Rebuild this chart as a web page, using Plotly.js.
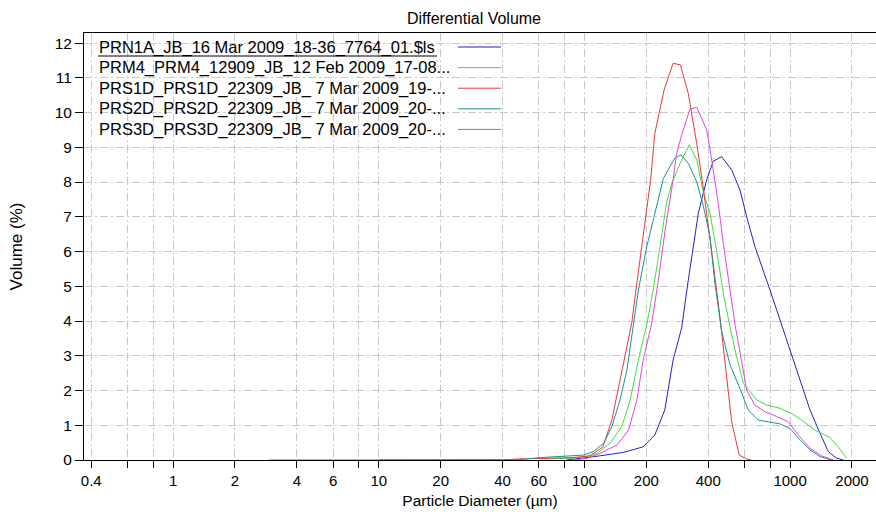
<!DOCTYPE html>
<html>
<head>
<meta charset="utf-8">
<script src="https://cdn.plot.ly/plotly-3.0.1.min.js"></script>
<style>html,body{margin:0;padding:0;background:#fff;}#chart{width:876px;height:512px;}</style>
</head>
<body>
<div id="chart"></div>
<script>
// ---- data ----
const seriesNames = [
  'PRN1A_JB_16 Mar 2009_18-36_7764_01.$ls',
  'PRM4_PRM4_12909_JB_12 Feb 2009_17-08...',
  'PRS1D_PRS1D_22309_JB_ 7 Mar 2009_19-...',
  'PRS2D_PRS2D_22309_JB_ 7 Mar 2009_20-...',
  'PRS3D_PRS3D_22309_JB_ 7 Mar 2009_20-...'
];
const seriesColors = ['#2323c8', '#3fe03f', '#e63a36', '#1f9090', '#e044e4'];

const prn1aX = [82, 98.8, 119, 155, 193, 220, 246, 270, 297, 320, 338, 358, 393, 423, 465, 520, 571, 615, 675, 741, 799, 861, 999, 1117, 1250, 1398, 1534, 1685, 1814];
const prn1aY = [0, 0.05, 0.12, 0.22, 0.38, 0.72, 1.44, 2.88, 3.8, 5.18, 6.14, 7.1, 8.06, 8.6, 8.73, 8.35, 7.77, 7.0, 6.14, 5.47, 4.89, 4.32, 3.17, 2.30, 1.44, 0.77, 0.24, 0.05, 0];

const prm4X = [60, 85, 103, 115, 133, 152, 167, 183, 201, 216, 233, 251, 266, 292, 324, 352, 379, 408, 443, 477, 510, 540, 592, 688, 770, 893, 1018, 1139, 1321, 1563, 1715, 1884];
const prm4Y = [0.03, 0.05, 0.10, 0.19, 0.48, 0.96, 1.73, 2.88, 3.9, 4.89, 6.14, 7.4, 7.96, 8.54, 9.07, 8.63, 7.7, 7.1, 5.9, 4.7, 3.85, 3.17, 2.21, 1.73, 1.58, 1.49, 1.34, 1.15, 0.86, 0.65, 0.38, 0.05];

const prs1dX = [2.93, 4, 6, 8, 10, 20, 40, 48, 60, 75, 88, 106.5, 123, 136, 152, 170, 178, 190, 210, 220, 244, 270, 293, 320, 352, 379, 400, 423, 456, 482, 520, 566, 615, 651];
const prs1dY = [0, 0, 0, 0, 0, 0, 0, 0.03, 0.05, 0.06, 0.07, 0.12, 0.38, 1.15, 2.59, 3.95, 4.89, 6.14, 8.06, 9.4, 10.65, 11.42, 11.37, 10.55, 9.1, 7.8, 6.81, 5.66, 4.12, 2.8, 1.1, 0.14, 0.03, 0];

const prs2dX = [10, 20, 40, 48.6, 61, 82, 98.8, 110.5, 124, 136, 149, 161, 173, 183, 201, 220, 242, 266, 276, 295, 320, 352, 379, 408, 431, 465, 510, 571, 626, 700, 783, 893, 999, 1117, 1250, 1398, 1593];
const prs2dY = [0, 0, 0, 0.01, 0.07, 0.12, 0.14, 0.24, 0.48, 0.96, 1.73, 2.59, 3.9, 4.89, 6.14, 7.1, 8.1, 8.54, 8.7, 8.78, 8.54, 8.0, 7.3, 6.43, 5.09, 3.7, 2.75, 2.05, 1.44, 1.15, 1.10, 1.04, 0.91, 0.58, 0.29, 0.10, 0];

const prs3dX = [90, 103, 119, 144, 164, 180, 193, 212, 229, 247, 270, 280, 297, 326, 352, 393, 412, 446, 477, 510, 540, 571, 615, 675, 755, 861, 980, 1096, 1250, 1424, 1622];
const prs3dY = [0, 0.05, 0.19, 0.43, 0.86, 1.73, 2.88, 3.9, 5.18, 6.62, 8.06, 8.78, 9.35, 10.1, 10.15, 9.5, 8.8, 7.45, 6.1, 4.9, 3.9, 3.1, 2.01, 1.58, 1.39, 1.25, 1.10, 0.72, 0.34, 0.12, 0];

const xTickVals = [0.4, 0.6, 0.8, 1, 2, 4, 6, 8, 10, 20, 40, 60, 80, 100, 200, 400, 600, 800, 1000, 2000];
const xTickText = ['0.4', '', '', '1', '2', '4', '6', '', '10', '20', '40', '60', '', '100', '200', '400', '', '', '1000', '2000'];
const yTickVals = [0, 1, 2, 3, 4, 5, 6, 7, 8, 9, 10, 11, 12];

const titleText = 'Differential Volume';
const xTitleText = 'Particle Diameter (µm)';
const yTitleText = 'Volume (%)';

// ---- layout geometry ----
const W = 876, H = 512, ML = 84, MR = 0, MT = 33, MB = 52;
const PW = W - ML - MR, PH = H - MT - MB;
function pxX(p) { return (p - ML) / PW; }
function pxY(p) { return (H - MB - p) / PH; }

const FONT = 'Arial, "Liberation Sans", sans-serif';
const xs = [prn1aX, prm4X, prs1dX, prs2dX, prs3dX];
const ys = [prn1aY, prm4Y, prs1dY, prs2dY, prs3dY];

const traces = xs.map((x, i) => ({
  type: 'scatter', mode: 'lines', x: x, y: ys[i], name: seriesNames[i],
  line: { color: seriesColors[i], width: 1 }, showlegend: false, hoverinfo: 'skip'
}));

// custom legend (text left, line sample on the right, as in the reference)
const annotations = [];
const shapes = [];
const legTop = 47, legStep = 20.6;
seriesNames.forEach((n, i) => {
  const yy = legTop + i * legStep;
  annotations.push({
    xref: 'paper', yref: 'paper', x: pxX(97), y: pxY(yy), xanchor: 'left', yanchor: 'middle',
    text: n, showarrow: false, font: { family: FONT, size: 16.5, color: '#000' }
  });
  shapes.push({
    type: 'line', xref: 'paper', yref: 'paper', x0: pxX(458), x1: pxX(501), y0: pxY(yy), y1: pxY(yy),
    line: { color: seriesColors[i], width: 1 }
  });
});
// underline on the first legend entry (selected item)
shapes.push({ type: 'line', xref: 'paper', yref: 'paper', x0: pxX(98), x1: pxX(437), y0: pxY(56), y1: pxY(56), line: { color: '#000', width: 1 } });

const gridDash = '8px,3px,2px,3px';
const layout = {
  width: W, height: H,
  margin: { l: ML, r: MR, t: MT, b: MB, pad: 0 },
  paper_bgcolor: '#fff', plot_bgcolor: '#fff',
  font: { family: FONT, size: 15, color: '#000' },
  title: { text: titleText, font: { family: FONT, size: 16, color: '#000' }, xref: 'container', yref: 'container', x: 474 / W, y: 1 - 18 / H, xanchor: 'center', yanchor: 'middle' },
  xaxis: {
    type: 'log', range: [Math.log10(0.369), Math.log10(2617)],
    tickmode: 'array', tickvals: xTickVals, ticktext: xTickText,
    ticks: 'outside', ticklen: 7, tickcolor: '#000', tickwidth: 1,
    showline: true, linecolor: '#000', linewidth: 1, mirror: true,
    showgrid: true, gridcolor: '#c8c8c8', gridwidth: 1, griddash: gridDash,
    zeroline: false, tickfont: { family: FONT, size: 15, color: '#000' },
    title: { text: xTitleText, font: { family: FONT, size: 15.5, color: '#000' }, standoff: 7 }
  },
  yaxis: {
    range: [0, 12.29], tickmode: 'array', tickvals: yTickVals,
    ticks: 'outside', ticklen: 8, tickcolor: '#000', tickwidth: 1,
    showline: true, linecolor: '#000', linewidth: 1, mirror: false,
    showgrid: true, gridcolor: '#c8c8c8', gridwidth: 1, griddash: gridDash,
    zeroline: false, tickfont: { family: FONT, size: 15.5, color: '#000' },
    title: { text: yTitleText, font: { family: FONT, size: 17, color: '#000' }, standoff: 27 }
  },
  annotations: annotations, shapes: shapes,
  showlegend: false
};

Plotly.newPlot('chart', traces, layout, { displayModeBar: false, staticPlot: true });
</script>
</body>
</html>
